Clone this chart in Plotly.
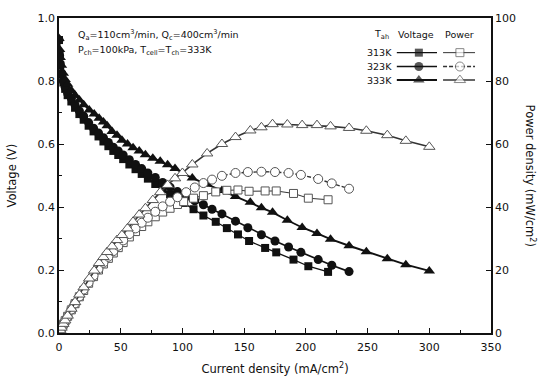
import plotly.graph_objects as go

# Current density (mA/cm^2), cell voltage (V) and power density (mW/cm^2)
# for three anode humidification temperatures.
cur_313 = [0, 0.5, 1, 2, 3.5, 5, 7, 10, 13, 16.5, 20, 24, 28, 32, 36, 40, 44, 48, 52, 57,
           62, 67, 72, 78, 84, 90, 96, 101, 109, 117, 127, 136, 145, 154, 167, 176, 190, 202, 218]
volt_313 = [0.93, 0.88, 0.85, 0.82, 0.795, 0.775, 0.755, 0.735, 0.715, 0.695, 0.677, 0.658,
            0.64, 0.624, 0.608, 0.593, 0.578, 0.565, 0.552, 0.535, 0.52, 0.505, 0.49, 0.473,
            0.457, 0.44, 0.425, 0.413, 0.393, 0.373, 0.353, 0.333, 0.313, 0.292, 0.27, 0.256,
            0.233, 0.212, 0.194]
pow_313 = [0, 0.44, 0.85, 1.64, 2.78, 3.9, 5.3, 7.35, 9.3, 11.5, 13.5, 15.8, 17.9, 20.0,
           21.9, 23.7, 25.4, 27.1, 28.7, 30.5, 32.2, 33.8, 35.3, 36.9, 38.4, 39.6, 40.8,
           41.7, 42.8, 43.6, 44.8, 45.3, 45.4, 45.0, 45.1, 45.1, 44.3, 42.8, 42.3]

cur_323 = [0, 0.5, 1, 2, 3.5, 5, 7, 10, 13, 16.5, 20, 24, 28, 32, 36, 40, 44, 48, 52, 57,
           62, 67, 72, 78, 84, 90, 96, 103, 110, 117, 124, 132, 143, 153, 164, 175, 186,
           196, 210, 221, 235]
volt_323 = [0.93, 0.88, 0.855, 0.825, 0.80, 0.78, 0.76, 0.745, 0.725, 0.705, 0.688, 0.668,
            0.65, 0.635, 0.62, 0.605, 0.59, 0.578, 0.565, 0.55, 0.535, 0.522, 0.508, 0.494,
            0.478, 0.463, 0.449, 0.434, 0.42, 0.407, 0.393, 0.378, 0.355, 0.334, 0.312,
            0.292, 0.273, 0.256, 0.233, 0.215, 0.195]
pow_323 = [0, 0.44, 0.86, 1.65, 2.8, 3.9, 5.3, 7.45, 9.4, 11.6, 13.8, 16.0, 18.2, 20.3,
           22.3, 24.2, 26.0, 27.7, 29.4, 31.4, 33.2, 35.0, 36.6, 38.5, 40.2, 41.7, 43.1,
           44.7, 46.2, 47.6, 48.7, 49.9, 50.8, 51.1, 51.2, 51.1, 50.8, 50.2, 48.9, 47.5, 45.8]

cur_333 = [0, 0.5, 1, 2, 3.5, 5, 7, 10, 13, 16.5, 20, 24.5, 28.5, 32.5, 36, 39, 43, 47, 51,
           55.5, 60, 65, 70, 76, 82, 88, 94, 100, 108, 120, 132, 143, 155, 164, 173, 185,
           197, 209, 220, 235, 249, 266, 281, 300]
volt_333 = [0.935, 0.90, 0.875, 0.85, 0.825, 0.805, 0.79, 0.77, 0.755, 0.74, 0.725, 0.708,
            0.695, 0.682, 0.67, 0.658, 0.64, 0.628, 0.612, 0.6, 0.588, 0.578, 0.566, 0.555,
            0.545, 0.534, 0.522, 0.508, 0.492, 0.472, 0.452, 0.433, 0.415, 0.398, 0.383,
            0.358, 0.335, 0.316, 0.298, 0.277, 0.258, 0.236, 0.217, 0.197]
pow_333 = [0, 0.45, 0.88, 1.7, 2.9, 4.0, 5.5, 7.7, 9.8, 12.2, 14.5, 17.3, 19.8, 22.2, 24.1,
           25.7, 27.5, 29.5, 31.1, 33.2, 35.3, 37.6, 39.6, 42.2, 44.7, 47.0, 49.1, 50.8,
           53.5, 57.0, 60.0, 62.2, 64.3, 65.3, 66.3, 66.2, 66.0, 66.0, 65.6, 65.1, 64.2,
           62.8, 61.0, 59.1]

labels = ["313K", "323K", "333K"]
x_ticks = [0, 50, 100, 150, 200, 250, 300, 350]
v_ticks = [0.0, 0.2, 0.4, 0.6, 0.8, 1.0]
p_ticks = [0, 20, 40, 60, 80, 100]

FONT = "DejaVu Sans"
INK = "#111111"

series = [
    (cur_313, volt_313, pow_313, "square", 8, 1.0, "solid"),
    (cur_323, volt_323, pow_323, "circle", 9, 1.4, "4px,2px"),
    (cur_333, volt_333, pow_333, "triangle-up", 10, 1.6, "solid"),
]

fig = go.Figure()

for cur, volt, pw, sym, size, lw, pdash in series:
    # power density: open markers on the right axis
    fig.add_trace(go.Scatter(
        x=cur, y=pw, yaxis="y2", mode="lines+markers",
        line=dict(color="#333333", width=lw, dash=pdash),
        marker=dict(symbol=sym, size=size, color="white",
                    line=dict(color="#555555", width=1)),
        showlegend=False, hoverinfo="skip"))
    # voltage: filled markers on the left axis
    fig.add_trace(go.Scatter(
        x=cur, y=volt, mode="lines+markers",
        line=dict(color=INK, width=lw + 0.3),
        marker=dict(symbol=sym, size=size, color=INK, line=dict(width=0)),
        showlegend=False, hoverinfo="skip"))

# Key table drawn on a unit-scaled overlay axis pair;
# only the centre point of each key sample carries a marker
key_rows = [0.890, 0.846, 0.803]
for (cur, volt, pw, sym, size, lw, pdash), ky in zip(series, key_rows):
    fig.add_trace(go.Scatter(
        x=[0.782, 0.833, 0.875], y=[ky, ky, ky], xaxis="x3", yaxis="y3",
        mode="lines+markers", line=dict(color=INK, width=lw + 0.3),
        marker=dict(symbol=sym, size=[0, size, 0], color=INK, line=dict(width=0)),
        showlegend=False, hoverinfo="skip"))
    fig.add_trace(go.Scatter(
        x=[0.889, 0.928, 0.963], y=[ky, ky, ky], xaxis="x3", yaxis="y3",
        mode="lines+markers",
        line=dict(color="#333333", width=lw, dash=pdash),
        marker=dict(symbol=sym, size=[0, size, 0], color="white",
                    line=dict(color="#555555", width=[0, 1, 0])),
        showlegend=False, hoverinfo="skip"))

annotations = []
tfont = dict(family=FONT, size=9.5, color=INK)
annotations.append(dict(
    xref="paper", yref="paper", x=0.039, y=0.947, xanchor="left", yanchor="middle",
    text="Q<sub>a</sub>=110cm<sup>3</sup>/min, Q<sub>c</sub>=400cm<sup>3</sup>/min",
    showarrow=False, font=tfont))
annotations.append(dict(
    xref="paper", yref="paper", x=0.039, y=0.897, xanchor="left", yanchor="middle",
    text="P<sub>ch</sub>=100kPa, T<sub>cell</sub>=T<sub>ch</sub>=333K",
    showarrow=False, font=tfont))
annotations.append(dict(
    xref="paper", yref="paper", x=0.747, y=0.947, xanchor="center", yanchor="middle",
    text="T<sub>ah</sub>", showarrow=False, font=tfont))
annotations.append(dict(
    xref="paper", yref="paper", x=0.826, y=0.947, xanchor="center", yanchor="middle",
    text="Voltage", showarrow=False, font=tfont))
annotations.append(dict(
    xref="paper", yref="paper", x=0.928, y=0.947, xanchor="center", yanchor="middle",
    text="Power", showarrow=False, font=tfont))
for lab, ky in zip(labels, key_rows):
    annotations.append(dict(
        xref="paper", yref="paper", x=0.775, y=ky, xanchor="right", yanchor="middle",
        text=lab, showarrow=False, font=tfont))

# axis titles
annotations.append(dict(
    xref="paper", yref="paper", x=-0.109, y=0.5, xanchor="center", yanchor="middle",
    text="Voltage (V)", textangle=-90, showarrow=False,
    font=dict(family=FONT, size=11.5, color=INK)))
annotations.append(dict(
    xref="paper", yref="paper", x=1.09, y=0.5, xanchor="center", yanchor="middle",
    text="Power density (mW/cm<sup>2</sup>)", textangle=90, showarrow=False,
    font=dict(family=FONT, size=11.5, color=INK)))

axis_common = dict(
    showline=True, linecolor=INK, linewidth=1.5, ticks="inside", ticklen=5,
    tickwidth=1.3, tickcolor=INK, showgrid=False, zeroline=False,
    tickfont=dict(family=FONT, size=11, color=INK))

fig.update_layout(
    width=541, height=390,
    margin=dict(l=59, r=50, t=14, b=57),
    paper_bgcolor="white", plot_bgcolor="white",
    font=dict(family=FONT, color=INK),
    showlegend=False,
    xaxis=dict(range=[0, 350], tickvals=x_ticks, mirror=True, ticklabelstandoff=3,
               minor=dict(ticks="inside", ticklen=3, dtick=25, tickcolor=INK),
               title=dict(text="Current density (mA/cm<sup>2</sup>)",
                          font=dict(family=FONT, size=11.5, color=INK), standoff=12),
               **axis_common),
    yaxis=dict(range=[0, 1.0], tickvals=v_ticks, tickformat=".1f",
               minor=dict(ticks="inside", ticklen=3, dtick=0.1, tickcolor=INK),
               **axis_common),
    yaxis2=dict(range=[0, 100], tickvals=p_ticks, overlaying="y", side="right",
                **axis_common),
    xaxis3=dict(range=[0, 1], overlaying="x", visible=False),
    yaxis3=dict(range=[0, 1], overlaying="y", visible=False),
    annotations=annotations,
)

fig.write_html("out.html")
